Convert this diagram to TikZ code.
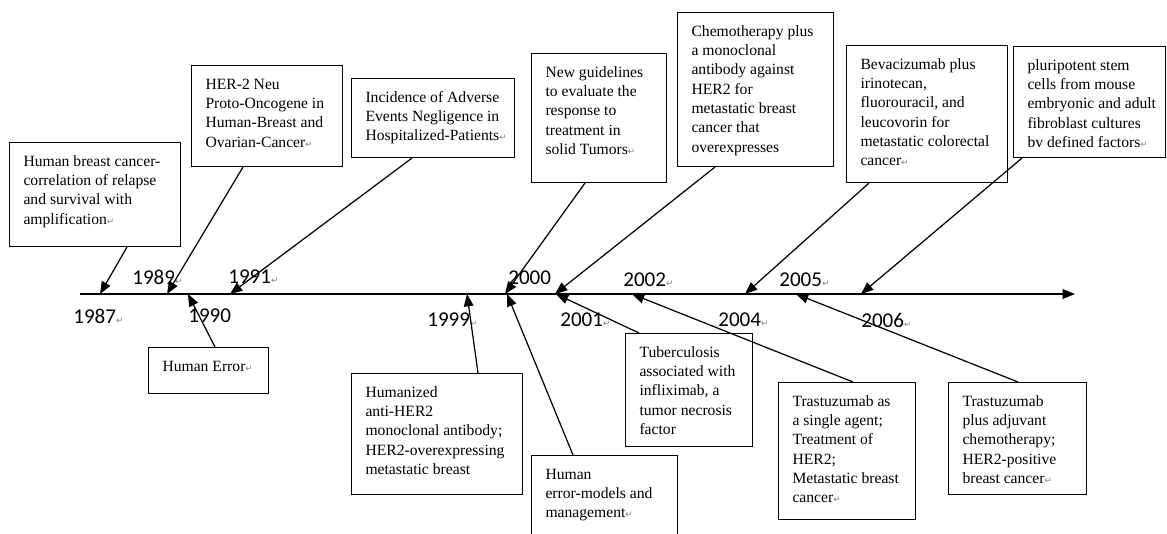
\documentclass[tikz,border=0pt]{standalone}
\usepackage{fontspec}
\usetikzlibrary{arrows.meta}
\newfontfamily\evfont{Liberation Serif}
\newfontfamily\yrfont{Carlito}
\newfontfamily\markfont{DejaVu Sans}
\newlength\px \setlength\px{0.02cm}
% paragraph mark as Word shows it
\newcommand{\pmark}{{\markfont\fontsize{5}{5}\selectfont\textcolor{gray}{↵}}}
% box text: width, height (px), lines
\newcommand{\evtext}[3]{\parbox[t][\dimexpr#2\px-20\px\relax][t]{\dimexpr#1\px-28\px\relax}{\begin{tabular}[t]{@{}l@{}}#3\end{tabular}}}
\tikzset{
  evbox/.style={draw, line width=0.6pt, anchor=north west, inner xsep=14\px, inner ysep=10\px,
    font=\evfont\fontsize{8.9}{11}\selectfont},
  yr/.style={anchor=west, inner sep=0pt, font=\yrfont\fontsize{12}{14}\selectfont},
  evarrow/.style={line width=0.7pt, -{Triangle[length=7pt,width=5.5pt]}},
}
\begin{document}
\begin{tikzpicture}[x=0.02cm, y=-0.02cm]
\useasboundingbox (0,0) rectangle (1167,534);
% time axis
\coordinate (ax0) at (80,294);
\coordinate (ax1) at (1075,294);
\draw[evarrow, line width=0.8pt] (ax0) -- (ax1);
% points on the axis
\coordinate (t1987) at (100,294);
\coordinate (t1989) at (167,294);
\coordinate (t1990) at (188,294);
\coordinate (t1991) at (230,294);
\coordinate (t1999) at (467,294);
\coordinate (t2000a) at (505,294);
\coordinate (t2000b) at (507,294);
\coordinate (t2001a) at (555,294);
\coordinate (t2001b) at (556,294);
\coordinate (t2002) at (632,294);
\coordinate (t2004) at (745,294);
\coordinate (t2005) at (796,294);
\coordinate (t2006) at (861,294);
% years
\node[yr] (y1987) at (73,316) {1987\pmark};
\node[yr] (y1989) at (132,277) {1989\pmark};
\node[yr] (y1990) at (188,316) {1990};
\node[yr] (y1991) at (228,277) {1991\pmark};
\node[yr] (y1999) at (427,320) {1999\pmark};
\node[yr] (y2000) at (508,278) {2000};
\node[yr] (y2001) at (560,320) {2001\pmark};
\node[yr] (y2002) at (623,280) {2002\pmark};
\node[yr] (y2004) at (718,320) {2004\pmark};
\node[yr] (y2005) at (779,280) {2005\pmark};
\node[yr] (y2006) at (861,320) {2006\pmark};
% events above
\node[evbox] (b1987) at (9,142) {\evtext{171}{104}{Human breast cancer-\\correlation of relapse\\and survival with\\amplification\pmark}};
\node[evbox] (b1989) at (191,65) {\evtext{151}{101}{HER-2 Neu\\Proto-Oncogene in\\Human-Breast and\\Ovarian-Cancer\pmark}};
\node[evbox] (b1991) at (351,78) {\evtext{163}{79}{Incidence of Adverse\\Events Negligence in\\Hospitalized-Patients\pmark}};
\node[evbox] (b2000a) at (531,53) {\evtext{135}{129}{New guidelines\\to evaluate the\\response to\\treatment in\\solid Tumors\pmark}};
\node[evbox] (b2001a) at (677,12) {\evtext{156}{154}{Chemotherapy plus\\a monoclonal\\antibody against\\HER2 for\\metastatic breast\\cancer that\\overexpresses}};
\node[evbox] (b2004) at (846,45) {\evtext{161}{137}{Bevacizumab plus\\irinotecan,\\fluorouracil, and\\leucovorin for\\metastatic colorectal\\cancer\pmark}};
\node[evbox] (b2006) at (1013,46) {\evtext{152}{111}{pluripotent stem\\cells from mouse\\embryonic and adult\\fibroblast cultures\\bv defined factors\pmark}};
% events below
\node[evbox] (b1990) at (148,347) {\evtext{120}{46}{Human Error\pmark}};
\node[evbox] (b1999) at (351,373) {\evtext{171}{121}{Humanized\\anti-HER2\\monoclonal antibody;\\HER2-overexpressing\\metastatic breast}};
\node[evbox] (b2000b) at (531,455) {\evtext{146}{88}{Human\\error-models and\\management\pmark}};
\node[evbox] (b2001b) at (625,333) {\evtext{127}{113}{Tuberculosis\\associated with\\infliximab, a\\tumor necrosis\\factor}};
\node[evbox] (b2002) at (778,382) {\evtext{137}{137}{Trastuzumab as\\a single agent;\\Treatment of\\HER2;\\Metastatic breast\\cancer\pmark}};
\node[evbox] (b2005) at (948,382) {\evtext{138}{112}{Trastuzumab\\plus adjuvant\\chemotherapy;\\HER2-positive\\breast cancer\pmark}};
% pointers
\draw[evarrow] (b1987.south west) ++(118,0) -- (t1987);
\draw[evarrow] (b1989.south west) ++(52,0) -- (t1989);
\draw[evarrow] (b1991.south west) ++(61,0) -- (t1991);
\draw[evarrow] (b2000a.south west) ++(54,0) -- (t2000a);
\draw[evarrow] (b2001a.south west) ++(38,0) -- (t2001a);
\draw[evarrow] (b2004.south west) ++(23,0) -- (t2004);
\draw[evarrow] (b2006.south west) ++(9,0) -- (t2006);
\draw[evarrow] (b1990.north west) ++(67,0) -- (t1990);
\draw[evarrow] (b1999.north west) ++(127,0) -- (t1999);
\draw[evarrow] (b2000b.north west) ++(42,0) -- (t2000b);
\draw[evarrow] (b2001b.north west) ++(14,0) -- (t2001b);
\draw[evarrow] (b2002.north west) ++(75,0) -- (t2002);
\draw[evarrow] (b2005.north west) ++(70,0) -- (t2005);
\end{tikzpicture}
\end{document}
